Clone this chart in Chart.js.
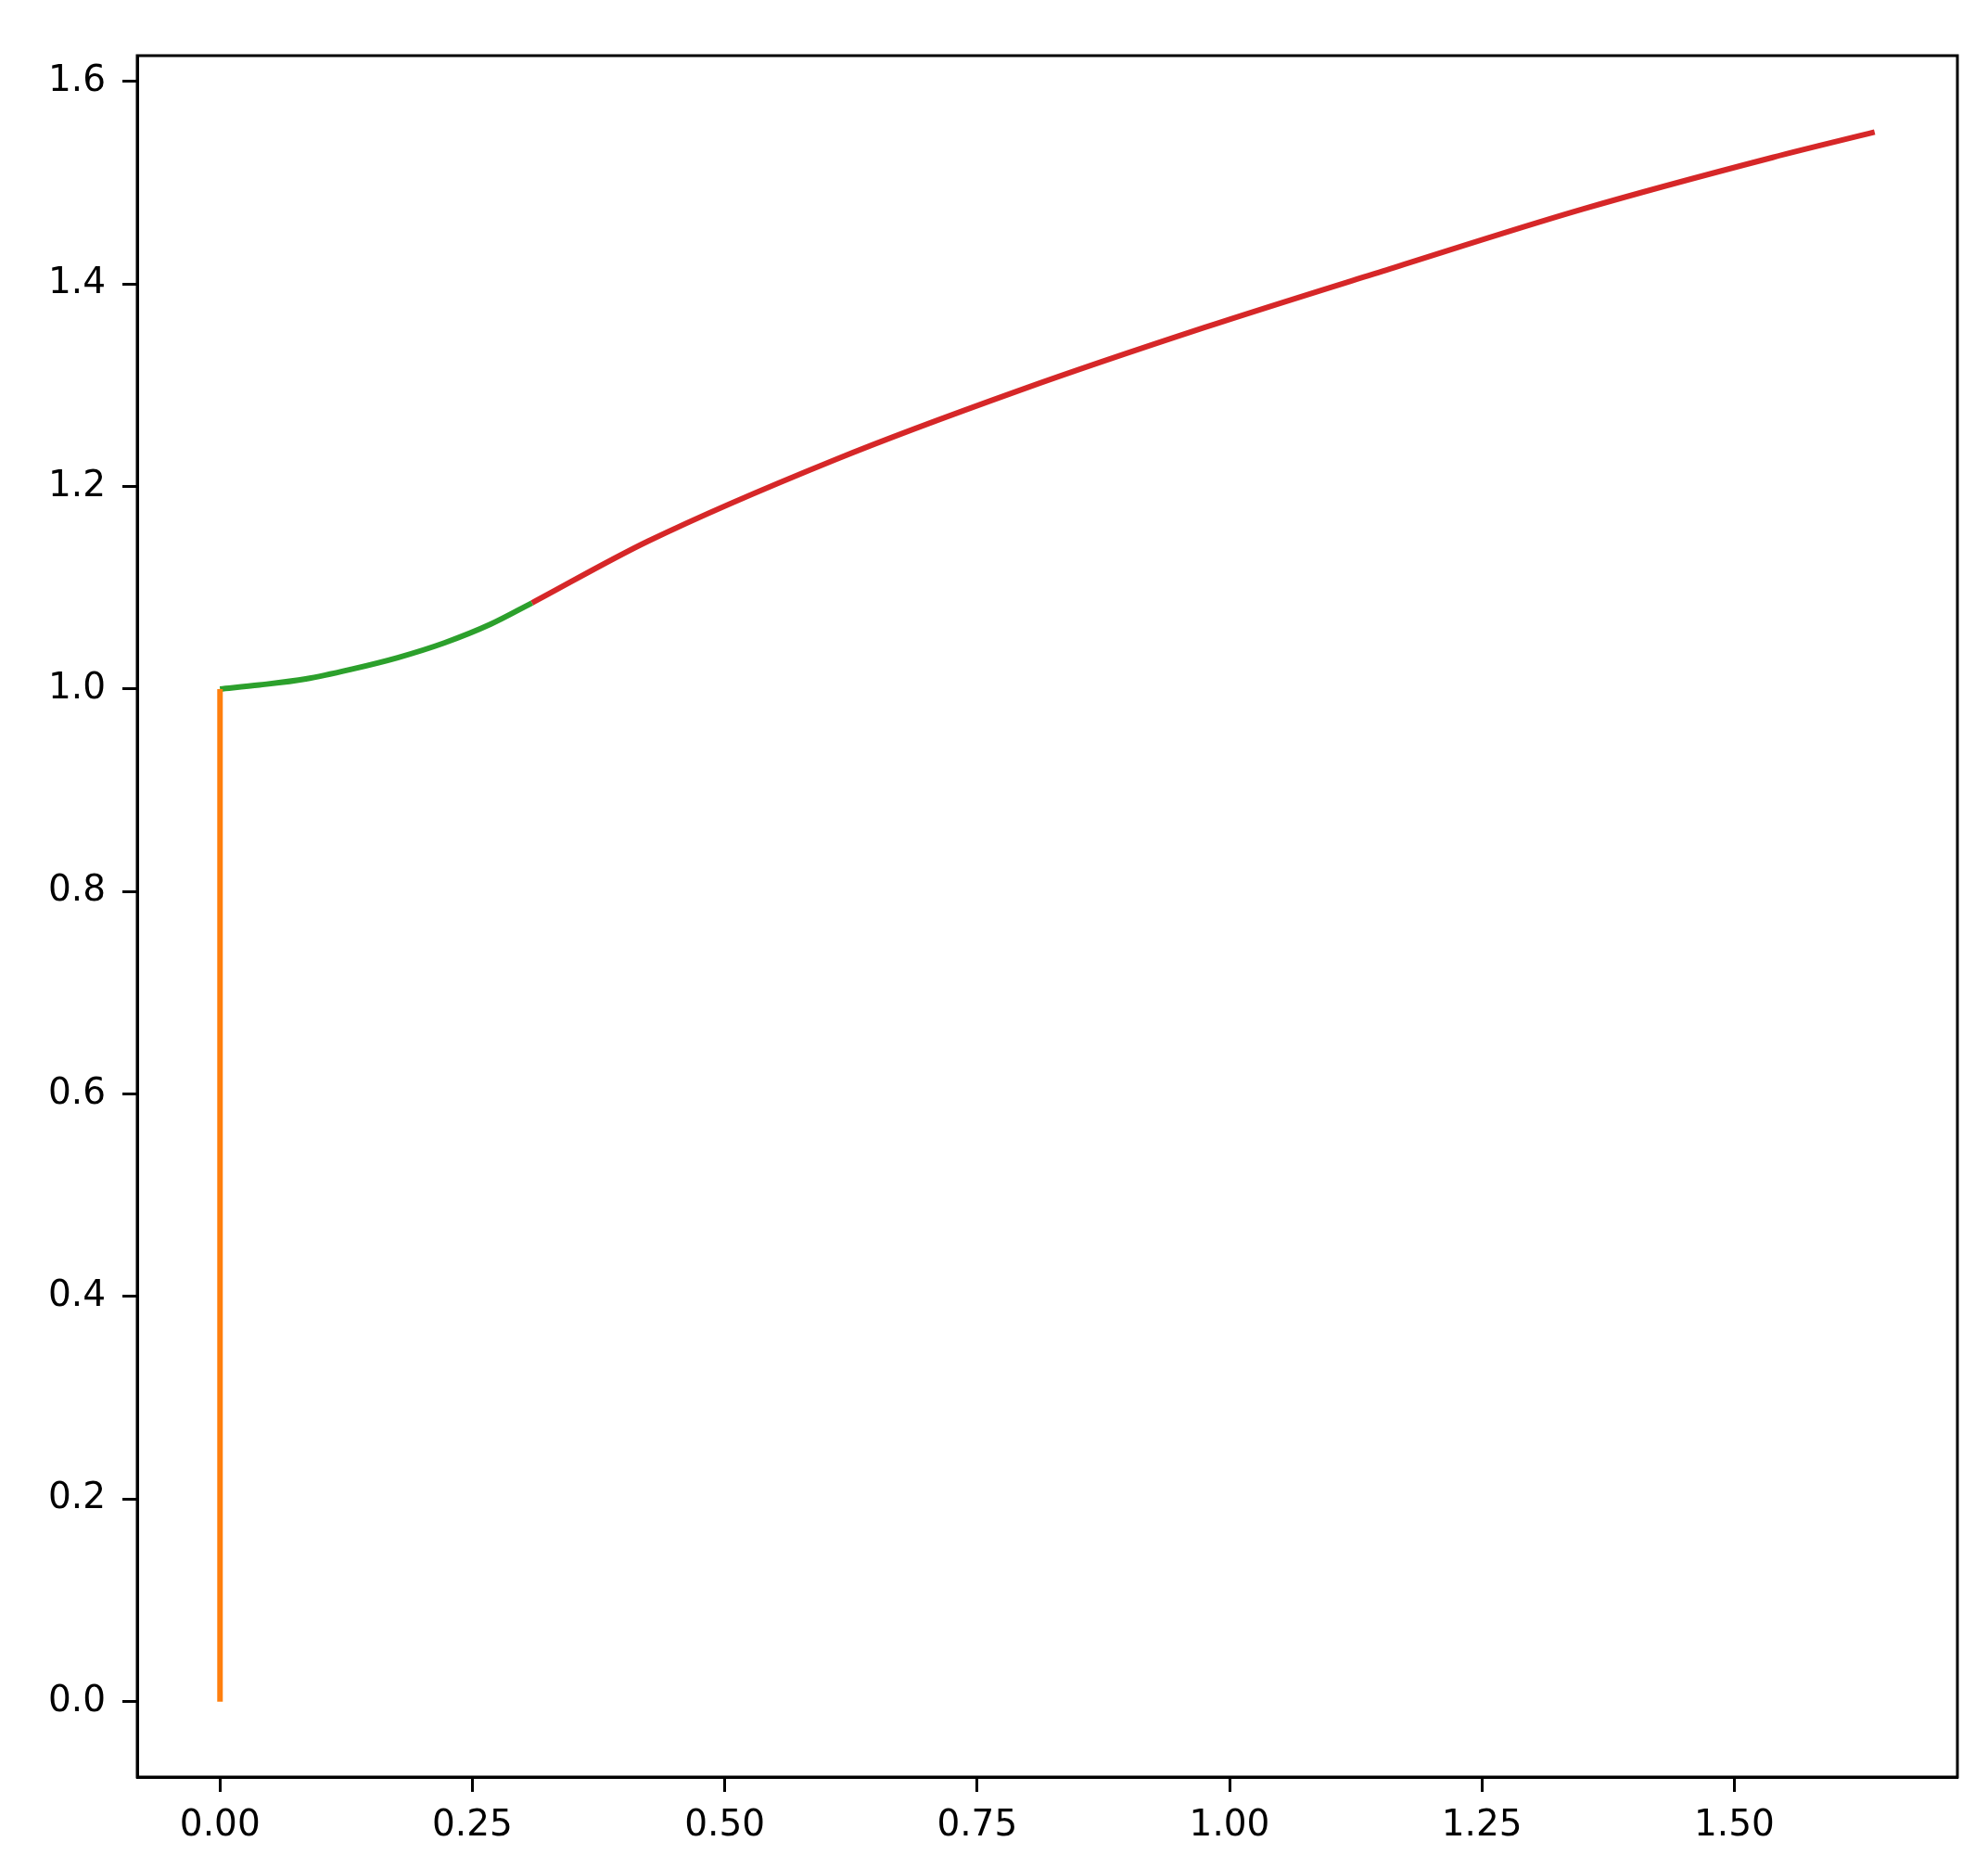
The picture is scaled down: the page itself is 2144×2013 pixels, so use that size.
<!DOCTYPE html>
<html>
<head>
<meta charset="utf-8">
<script src="https://cdn.jsdelivr.net/npm/chart.js@4/dist/chart.umd.min.js"></script>
<style>
  html, body { margin: 0; padding: 0; background: #fff; }
  #wrap { width: 2144px; height: 2013px; }
</style>
</head>
<body>
<div id="wrap"><canvas id="chartCanvas" width="2144" height="2013"></canvas></div>
<script>
// values
const stemX = [0, 0];
const stemY = [0, 1.0];

const greenX = [0, 0.039, 0.085, 0.130, 0.176, 0.222, 0.268, 0.309];
const greenY = [1.0, 1.004, 1.010, 1.0195, 1.031, 1.0455, 1.064, 1.085];

const redX = [0.309, 0.424, 0.608, 0.792, 0.975, 1.159, 1.350, 1.538, 1.639];
const redY = [1.085, 1.146, 1.226, 1.295, 1.357, 1.415, 1.474, 1.525, 1.550];

const xTicks = [0, 0.25, 0.5, 0.75, 1.0, 1.25, 1.5];
const yTicks = [0, 0.2, 0.4, 0.6, 0.8, 1.0, 1.2, 1.4, 1.6];

const xMin = -0.082, xMax = 1.721;
const yMin = -0.0745, yMax = 1.6255;

function toPoints(xs, ys) {
  return xs.map((x, i) => ({ x: x, y: ys[i] }));
}

// frame round the plot area, like the matplotlib spines
const boxPlugin = {
  id: 'box',
  afterDraw(c) {
    const a = c.chartArea;
    const ctx = c.ctx;
    ctx.save();
    ctx.strokeStyle = '#000';
    ctx.lineWidth = 3;
    ctx.strokeRect(a.left, a.top, a.right - a.left, a.bottom - a.top);
    ctx.restore();
  }
};

const ctx = document.getElementById('chartCanvas').getContext('2d');
const chart = new Chart(ctx, {
  type: 'scatter',
  data: {
    datasets: [
      {
        data: toPoints(stemX, stemY),
        showLine: true,
        borderColor: '#ff7f0e',
        borderWidth: 6,
        pointRadius: 0,
        tension: 0
      },
      {
        data: toPoints(greenX, greenY),
        showLine: true,
        borderColor: '#2ca02c',
        borderWidth: 6,
        pointRadius: 0,
        cubicInterpolationMode: 'monotone'
      },
      {
        data: toPoints(redX, redY),
        showLine: true,
        borderColor: '#d62728',
        borderWidth: 6,
        pointRadius: 0,
        cubicInterpolationMode: 'monotone'
      }
    ]
  },
  options: {
    responsive: false,
    animation: false,
    devicePixelRatio: 1,
    layout: { padding: { left: 0, top: 60, right: 33, bottom: 0 } },
    plugins: {
      legend: { display: false },
      tooltip: { enabled: false }
    },
    scales: {
      x: {
        type: 'linear',
        min: xMin,
        max: xMax,
        afterBuildTicks(scale) {
          scale.ticks = xTicks.map(v => ({ value: v }));
        },
        afterFit(scale) { scale.height = 97; },
        border: { display: true, color: '#000', width: 3 },
        grid: {
          drawOnChartArea: false,
          drawTicks: true,
          tickLength: 16,
          tickWidth: 3,
          tickColor: '#000'
        },
        ticks: {
          color: '#000',
          padding: 13,
          maxRotation: 0,
          autoSkip: false,
          font: { family: 'DejaVu Sans', size: 39 },
          callback: v => Number(v).toFixed(2)
        }
      },
      y: {
        type: 'linear',
        min: yMin,
        max: yMax,
        afterBuildTicks(scale) {
          scale.ticks = yTicks.map(v => ({ value: v }));
        },
        afterFit(scale) { scale.width = 148; },
        border: { display: true, color: '#000', width: 3 },
        grid: {
          drawOnChartArea: false,
          drawTicks: true,
          tickLength: 16,
          tickWidth: 3,
          tickColor: '#000'
        },
        ticks: {
          color: '#000',
          padding: 18,
          autoSkip: false,
          font: { family: 'DejaVu Sans', size: 39 },
          callback: v => Number(v).toFixed(1)
        }
      }
    }
  },
  plugins: [boxPlugin]
});
</script>
</body>
</html>
